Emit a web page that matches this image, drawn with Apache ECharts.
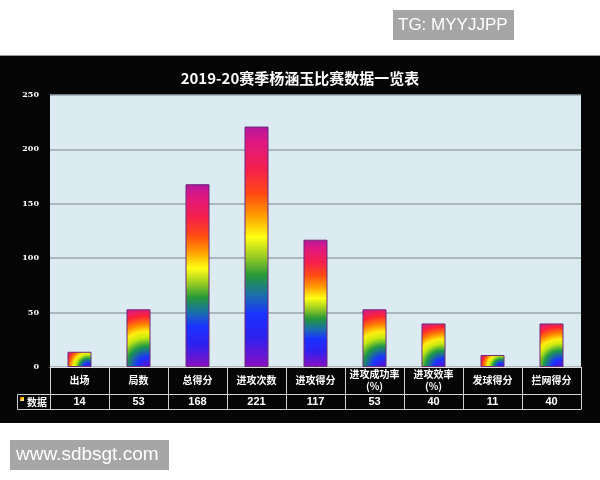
<!DOCTYPE html>
<html>
<head>
<meta charset="utf-8">
<script src="https://cdn.jsdelivr.net/npm/echarts@6/dist/echarts.min.js"></script>
<style>
  html, body { margin: 0; padding: 0; background: #ffffff; }
  #chart { width: 600px; height: 480px; }
</style>
</head>
<body>
<div id="chart"></div>
<script>
const titleText = '2019-20赛季杨涵玉比赛数据一览表';
const categories = ['出场', '局数', '总得分', '进攻次数', '进攻得分', '进攻成功率\n(%)', '进攻效率\n(%)', '发球得分', '拦网得分'];
const values = [14, 53, 168, 221, 117, 53, 40, 11, 40];
const seriesName = '数据';
const yMin = 0, yMax = 250, yStep = 50;

const chart = echarts.init(document.getElementById('chart'), null, { renderer: 'canvas' });

const GRID = { left: 50, right: 19, top: 95, bottom: 113 };
const BAR_W = 24;
const plotH = 480 - GRID.top - GRID.bottom;

const linearStops = [
  { offset: 0.00, color: '#b3179f' },
  { offset: 0.07, color: '#e0187f' },
  { offset: 0.18, color: '#f5204c' },
  { offset: 0.28, color: '#ff4a12' },
  { offset: 0.37, color: '#ff9c00' },
  { offset: 0.46, color: '#ffff14' },
  { offset: 0.54, color: '#9ccd22' },
  { offset: 0.62, color: '#26983a' },
  { offset: 0.70, color: '#1a70a8' },
  { offset: 0.78, color: '#1a32ff' },
  { offset: 0.88, color: '#3020ee' },
  { offset: 1.00, color: '#8a10c0' }
];
const radialStops = [
  { offset: 0.00, color: '#5a10d0' },
  { offset: 0.16, color: '#1a34ff' },
  { offset: 0.34, color: '#1f9a45' },
  { offset: 0.48, color: '#c8ea10' },
  { offset: 0.58, color: '#ffee10' },
  { offset: 0.70, color: '#ff8200' },
  { offset: 0.83, color: '#ff2434' },
  { offset: 1.00, color: '#d0189c' }
];

function barColor(v) {
  if (v >= 100) {
    return { type: 'linear', x: 0, y: 0, x2: 0, y2: 1, colorStops: linearStops };
  }
  const h = v * plotH / (yMax - yMin);
  const cx = 0.85, cy = 1.0;
  const dx = cx * BAR_W, dy = cy * h;
  const dist = Math.sqrt(dx * dx + dy * dy);
  const r = dist / Math.min(BAR_W, h);
  return { type: 'radial', x: cx, y: cy, r: r, colorStops: radialStops };
}

const catFont = { color: '#ffffff', fontWeight: 'bold', fontSize: 10, fontFamily: '"Noto Sans CJK SC", sans-serif', lineHeight: 12 };

const option = {
  backgroundColor: '#ffffff',
  animation: false,
  title: {
    text: titleText,
    left: 'center',
    top: 66,
    textStyle: { color: '#ffffff', fontSize: 15, fontWeight: 'bold', fontFamily: '"Noto Sans CJK SC", sans-serif' }
  },
  graphic: [
    { type: 'rect', z: -10, shape: { x: 0, y: 55, width: 600, height: 368 }, style: { fill: '#050505', stroke: '#8a8a8a', lineWidth: 0 } },
    { type: 'line', z: -9, shape: { x1: 0, y1: 55.5, x2: 600, y2: 55.5 }, style: { stroke: '#9a9a9a', lineWidth: 1 } },
    { type: 'rect', shape: { x: 393, y: 10, width: 121, height: 30 }, style: { fill: '#a6a6a6' } },
    { type: 'text', x: 398, y: 25, style: { text: 'TG: MYYJJPP', fill: '#ffffff', font: '17px "Liberation Sans", Arial, sans-serif', textVerticalAlign: 'middle' } },
    { type: 'rect', shape: { x: 10, y: 440, width: 159, height: 30 }, style: { fill: '#a6a6a6' } },
    { type: 'text', x: 16, y: 455, style: { text: 'www.sdbsgt.com', fill: '#ffffff', font: '19px "Liberation Sans", Arial, sans-serif', textVerticalAlign: 'middle' } },
    // legend cell of the data table
    { type: 'polyline', shape: { points: [[50, 394.5], [17.5, 394.5], [17.5, 409.5], [50, 409.5]] }, style: { stroke: '#cfcfcf', lineWidth: 1, fill: null } },
    { type: 'rect', shape: { x: 20, y: 397, width: 4, height: 4 }, style: { fill: { type: 'linear', x: 0, y: 0, x2: 1, y2: 1, colorStops: [{ offset: 0, color: '#ff3030' }, { offset: 0.5, color: '#ffd000' }, { offset: 1, color: '#ffffff' }] } } },
    { type: 'text', x: 37, y: 402, style: { text: seriesName, fill: '#ffffff', font: 'bold 10px "Noto Sans CJK SC", sans-serif', textAlign: 'center', textVerticalAlign: 'middle' } }
  ],
  grid: {
    left: GRID.left, right: GRID.right, top: GRID.top, bottom: GRID.bottom,
    show: true, backgroundColor: '#dcebf2', borderWidth: 0
  },
  xAxis: [
    {
      type: 'category', data: categories, position: 'bottom',
      axisLine: { show: true, lineStyle: { color: '#e0e0e0', width: 1 } },
      axisTick: { show: true, length: 42, lineStyle: { color: '#d0d0d0', width: 1 } },
      axisLabel: Object.assign({ interval: 0, margin: 13, verticalAlign: 'middle' }, catFont)
    },
    {
      type: 'category', data: values.map(String), position: 'bottom', offset: 27,
      axisLine: { show: true, lineStyle: { color: '#d0d0d0', width: 1 } },
      axisTick: { show: false },
      axisLabel: { interval: 0, margin: 8, verticalAlign: 'middle', color: '#ffffff', fontWeight: 'bold', fontSize: 11, fontFamily: '"Liberation Sans", Arial, sans-serif' }
    },
    {
      type: 'category', data: categories, position: 'bottom', offset: 42,
      axisLine: { show: true, lineStyle: { color: '#d0d0d0', width: 1 } },
      axisTick: { show: false },
      axisLabel: { show: false }
    }
  ],
  yAxis: {
    type: 'value', min: yMin, max: yMax, interval: yStep,
    axisLine: { show: false },
    axisTick: { show: false },
    axisLabel: { color: '#ffffff', fontSize: 8, fontWeight: 'bold', fontFamily: '"DejaVu Serif", serif', margin: 11 },
    splitLine: { show: true, lineStyle: { color: '#9aa6ad', width: 1.5 } }
  },
  series: [{
    type: 'bar',
    name: seriesName,
    xAxisIndex: 0,
    barWidth: BAR_W,
    data: values.map(v => ({ value: v, itemStyle: { color: barColor(v) } })),
    itemStyle: { borderColor: '#6a2a78', borderWidth: 1 }
  }]
};

chart.setOption(option);
</script>
</body>
</html>
